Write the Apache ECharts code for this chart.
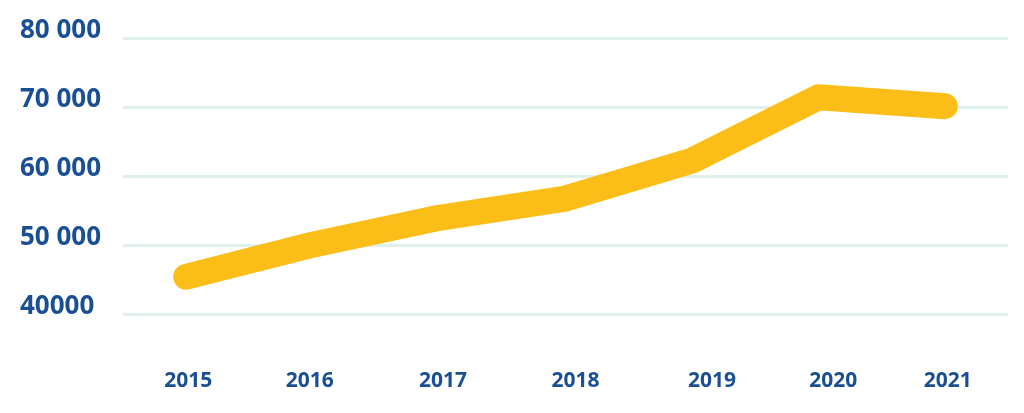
<!DOCTYPE html>
<html>
<head>
<meta charset="utf-8">
<script src="https://cdn.jsdelivr.net/npm/echarts@6/dist/echarts.min.js"></script>
<style>
html,body{margin:0;padding:0;background:#fff;}
#chart{width:1024px;height:413px;}
</style>
</head>
<body>
<div id="chart"></div>
<script>
const years = ['2015','2016','2017','2018','2019','2020','2021'];
const values = [45450, 50100, 54000, 56800, 62300, 71500, 70200];
const yTickLabels = ['40000','50 000','60 000','70 000','80 000'];

const chart = echarts.init(document.getElementById('chart'));
const blue = '#1B4F93';
const xFont = {color: blue, fontFamily: 'Open Sans', fontWeight: 'bold', fontSize: 21};
chart.setOption({
  animation: false,
  grid: {left: 123, right: 16, top: 38.7, bottom: 98.7},
  xAxis: {
    type: 'category',
    data: years,
    boundaryGap: true,
    axisLine: {show: false},
    axisTick: {show: false},
    splitLine: {show: false},
    axisLabel: Object.assign({
      margin: 56,
      interval: 0,
      hideOverlap: false,
      formatter: function (v, i) { return '{s' + i + '|' + v + '}'; },
      rich: {
        s0: Object.assign({padding: [0, 0, 0, 4]}, xFont),
        s1: Object.assign({padding: [0, 6, 0, 0]}, xFont),
        s2: Object.assign({padding: [0, 0, 0, 8]}, xFont),
        s3: Object.assign({padding: [0, 0, 0, 20]}, xFont),
        s4: Object.assign({padding: [0, 0, 0, 40]}, xFont),
        s5: Object.assign({padding: [0, 0, 0, 30]}, xFont),
        s6: Object.assign({padding: [0, 0, 0, 6]}, xFont)
      }
    }, xFont)
  },
  yAxis: {
    type: 'value',
    min: 40000,
    max: 80000,
    interval: 10000,
    axisLine: {show: false},
    axisTick: {show: false},
    splitLine: {show: true, lineStyle: {color: '#DFF0EA', width: 3}},
    axisLabel: {
      margin: 103,
      align: 'left',
      verticalAlign: 'bottom',
      lineHeight: 16,
      color: blue,
      fontFamily: 'Open Sans',
      fontWeight: 'bold',
      fontSize: 26,
      formatter: function (v) { return yTickLabels[Math.round((v - 40000) / 10000)]; }
    }
  },
  series: [{
    type: 'line',
    data: values,
    symbol: 'none',
    lineStyle: {color: '#FBBE19', width: 26, cap: 'round', join: 'round'}
  }]
});
</script>
</body>
</html>
